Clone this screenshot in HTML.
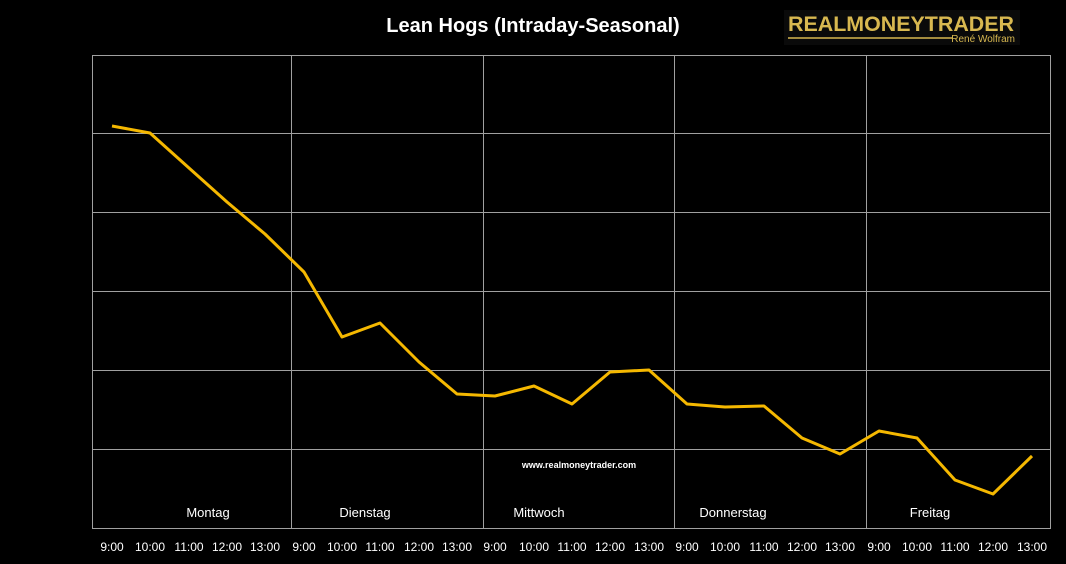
<!DOCTYPE html>
<html><head><meta charset="utf-8"><style>
body{margin:0;background:#000;width:1066px;height:564px;overflow:hidden}
svg{display:block}
</style></head><body>
<svg width="1066" height="564" xmlns="http://www.w3.org/2000/svg" font-family="Liberation Sans, sans-serif">
<rect width="1066" height="564" fill="#000"/>
<text x="533" y="32" fill="#fff" font-size="20" font-weight="bold" text-anchor="middle">Lean Hogs (Intraday-Seasonal)</text>
<rect x="784" y="10" width="236" height="35" fill="#0a0a0a"/>
<text x="901" y="31" fill="#d8b850" font-size="21" font-weight="bold" text-anchor="middle" textLength="226" lengthAdjust="spacingAndGlyphs">REALMONEYTRADER</text>
<line x1="788" y1="38" x2="953" y2="38" stroke="#d8b850" stroke-width="1.5"/>
<text x="1015" y="42" fill="#d8b850" font-size="10" text-anchor="end">René Wolfram</text>
<g stroke="#a0a0a0" stroke-width="1" fill="none">
<path d="M92.5 55.5H1050.5V528.5H92.5Z"/>
<path d="M92 133.5H1050M92 212.5H1050M92 291.5H1050M92 370.5H1050M92 449.5H1050"/>
<path d="M291.5 55V528M483.5 55V528M674.5 55V528M866.5 55V528"/>
</g>
<polyline fill="none" stroke="#f5b800" stroke-width="3" stroke-linejoin="round" points="112,126 150,133 189,168 227,202 265,234 304,272 342,337 380,323 419,362 457,394 495,396 534,386 572,404 610,372 649,370 687,404 725,407 764,406 802,438 840,454 879,431 917,438 955,480 993,494 1032,456"/>
<text x="579" y="468" fill="#fff" font-size="9" font-weight="bold" text-anchor="middle">www.realmoneytrader.com</text>
<g fill="#fff" font-size="13" text-anchor="middle">
<text x="208" y="517">Montag</text><text x="365" y="517">Dienstag</text><text x="539" y="517">Mittwoch</text><text x="733" y="517">Donnerstag</text><text x="930" y="517">Freitag</text>
</g>
<g fill="#fff" font-size="12" text-anchor="middle">
<text x="112" y="551">9:00</text><text x="150" y="551">10:00</text><text x="189" y="551">11:00</text><text x="227" y="551">12:00</text><text x="265" y="551">13:00</text>
<text x="304" y="551">9:00</text><text x="342" y="551">10:00</text><text x="380" y="551">11:00</text><text x="419" y="551">12:00</text><text x="457" y="551">13:00</text>
<text x="495" y="551">9:00</text><text x="534" y="551">10:00</text><text x="572" y="551">11:00</text><text x="610" y="551">12:00</text><text x="649" y="551">13:00</text>
<text x="687" y="551">9:00</text><text x="725" y="551">10:00</text><text x="764" y="551">11:00</text><text x="802" y="551">12:00</text><text x="840" y="551">13:00</text>
<text x="879" y="551">9:00</text><text x="917" y="551">10:00</text><text x="955" y="551">11:00</text><text x="993" y="551">12:00</text><text x="1032" y="551">13:00</text>
</g>
</svg>
</body></html>
